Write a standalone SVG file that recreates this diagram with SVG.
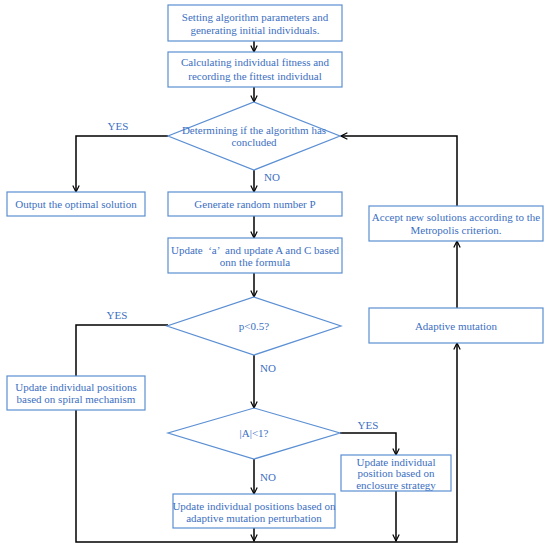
<svg xmlns="http://www.w3.org/2000/svg" width="550" height="550" viewBox="0 0 550 550">
<style>
.b{fill:#fff;stroke:#5b8fd3;stroke-width:1.2}
.t{font-family:"Liberation Serif","Times New Roman",serif;font-size:11px;fill:#3c6fc2;text-anchor:middle}
.c{fill:none;stroke:#000;stroke-width:1.5}
</style>
<defs>
<marker id="a" viewBox="0 0 10 10" refX="9" refY="5" markerWidth="8" markerHeight="8" markerUnits="userSpaceOnUse" orient="auto">
<path d="M1,1 L9,5 L1,9" fill="none" stroke="#000" stroke-width="1.5"/>
</marker>
</defs>
<rect width="550" height="550" fill="#fff"/>
<g id="connectors">
<path class="c" d="M254,41 V52" marker-end="url(#a)"/>
<path class="c" d="M254,87 V102" marker-end="url(#a)"/>
<path class="c" d="M168,136 H76 V192" marker-end="url(#a)"/>
<path class="c" d="M254,170 V192" marker-end="url(#a)"/>
<path class="c" d="M254,216 V238" marker-end="url(#a)"/>
<path class="c" d="M254,273 V297" marker-end="url(#a)"/>
<path class="c" d="M168,325 H76 V376"/>
<path class="c" d="M254,355 V408" marker-end="url(#a)"/>
<path class="c" d="M254,459 V494" marker-end="url(#a)"/>
<path class="c" d="M340,433 H396 V455" marker-end="url(#a)"/>
<path class="c" d="M254,528 V541" marker-end="url(#a)"/>
<path class="c" d="M396,491 V541" marker-end="url(#a)"/>
<path class="c" d="M76,410 V542 H457 V343" marker-end="url(#a)"/>
<path class="c" d="M457,308 V241" marker-end="url(#a)"/>
<path class="c" d="M457,206 V136 H341" marker-end="url(#a)"/>
<text class="t" x="118" y="130">YES</text>
<text class="t" x="272" y="181">NO</text>
<text class="t" x="117" y="319">YES</text>
<text class="t" x="268" y="372">NO</text>
<text class="t" x="368" y="429">YES</text>
<text class="t" x="268" y="481">NO</text>
</g>
<g id="n1"><rect class="b" x="168" y="5" width="174" height="36"/>
<text class="t" x="255" y="21">Setting algorithm parameters and</text>
<text class="t" x="255" y="34">generating initial individuals.</text></g>
<g id="n2"><rect class="b" x="168" y="52" width="174" height="35"/>
<text class="t" x="255" y="66">Calculating individual fitness and</text>
<text class="t" x="255" y="80">recording the fittest individual</text></g>
<g id="d1"><polygon class="b" points="254,102 340,136 254,170 168,136"/>
<text class="t" x="254" y="134">Determining if the algorithm has</text>
<text class="t" x="254" y="146">concluded</text></g>
<g id="n3"><rect class="b" x="7" y="192" width="138" height="24"/>
<text class="t" x="76" y="208">Output the optimal solution</text></g>
<g id="n4"><rect class="b" x="168" y="192" width="174" height="24"/>
<text class="t" x="255" y="208">Generate random number P</text></g>
<g id="n5"><rect class="b" x="168" y="238" width="174" height="35"/>
<text class="t" x="255" y="254" xml:space="preserve">Update  ‘a’  and update A and C based</text>
<text class="t" x="255" y="266">onn the formula</text></g>
<g id="d2"><polygon class="b" points="254,297 341,326 254,355 167,326"/>
<text class="t" x="254" y="330">p&lt;0.5?</text></g>
<g id="n6"><rect class="b" x="7" y="376" width="138" height="34"/>
<text class="t" x="76" y="391">Update individual positions</text>
<text class="t" x="76" y="403">based on spiral mechanism</text></g>
<g id="d3"><polygon class="b" points="254,408 340,433 254,459 168,433"/>
<text class="t" x="254" y="437">|A|&lt;1?</text></g>
<g id="n7"><rect class="b" x="173" y="494" width="162" height="34"/>
<text class="t" x="254" y="510">Update individual positions based on</text>
<text class="t" x="254" y="522">adaptive mutation perturbation</text></g>
<g id="n8"><rect class="b" x="341" y="455" width="110" height="36"/>
<text class="t" x="396" y="466">Update individual</text>
<text class="t" x="396" y="477">position based on</text>
<text class="t" x="396" y="489">enclosure strategy</text></g>
<g id="n9"><rect class="b" x="369" y="206" width="174" height="35"/>
<text class="t" x="456" y="221">Accept new solutions according to the</text>
<text class="t" x="456" y="234">Metropolis criterion.</text></g>
<g id="n10"><rect class="b" x="369" y="308" width="174" height="35"/>
<text class="t" x="456" y="330">Adaptive mutation</text></g>
</svg>
